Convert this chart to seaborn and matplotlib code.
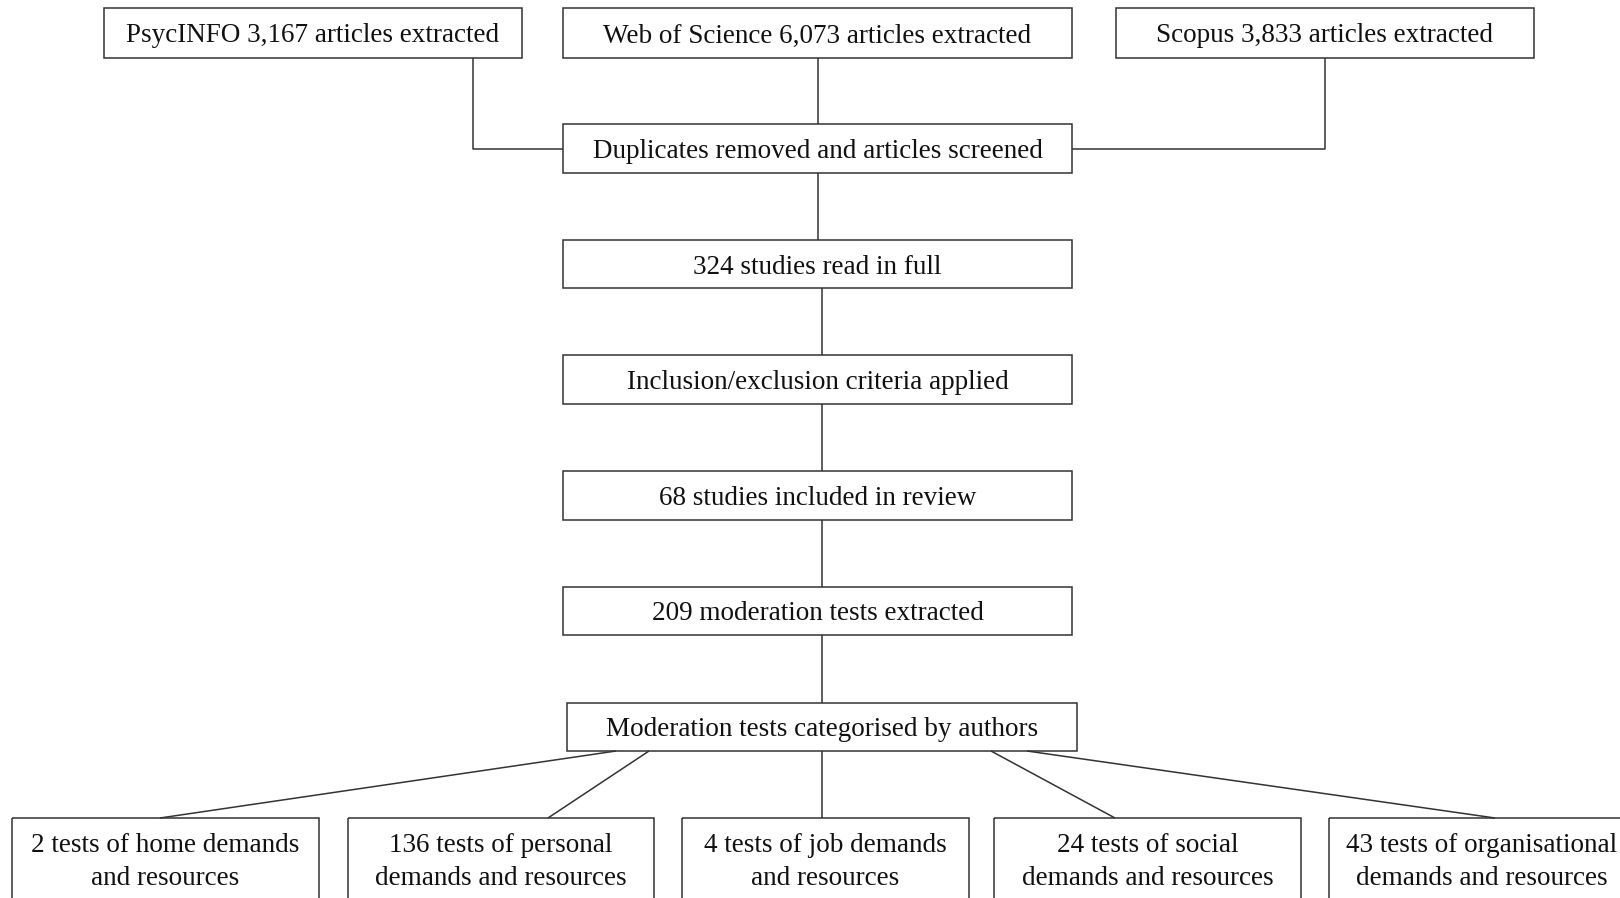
import matplotlib.pyplot as plt
from matplotlib.patches import Rectangle
import seaborn as sns

sns.set_style('white')
plt.rcParams['font.family'] = ['Liberation Serif', 'DejaVu Serif']

# record counts at each stage
databases = ['PsycINFO', 'Web of Science', 'Scopus']
db_counts = [3167, 6073, 3833]
full_read = 324
included = 68
mod_tests = 209
categories = ['home', 'personal', 'job', 'social', 'organisational']
cat_counts = [2, 136, 4, 24, 43]

W, H = 1620, 898
fig = plt.figure(figsize=(W / 100, H / 100), dpi=100)
ax = fig.add_axes([0, 0, 1, 1])
ax.set_xlim(0, W)
ax.set_ylim(H, 0)
ax.axis('off')

EDGE = '#333333'
LW = 1.1
FS = 19.5


def box(x0, x1, y0, y1, label):
    ax.add_patch(Rectangle((x0, y0), x1 - x0, y1 - y0, fill=False,
                           edgecolor=EDGE, linewidth=LW, clip_on=True))
    ax.text((x0 + x1) / 2, (y0 + y1) / 2 + 3, label, ha='center', va='center',
            fontsize=FS, color='#111111')


def line(xs, ys):
    ax.plot(xs, ys, color=EDGE, linewidth=LW, solid_capstyle='butt')


# top row of databases
top_x = [(104, 522), (563, 1072), (1116, 1534)]
for (x0, x1), name, n in zip(top_x, databases, db_counts):
    box(x0, x1, 8, 58, f'{name} {n:,} articles extracted')

# central column
mid = [
    ((563, 1072), (124, 173), 'Duplicates removed and articles screened'),
    ((563, 1072), (240, 288), f'{full_read} studies read in full'),
    ((563, 1072), (355, 404), 'Inclusion/exclusion criteria applied'),
    ((563, 1072), (471, 520), f'{included} studies included in review'),
    ((563, 1072), (587, 635), f'{mod_tests} moderation tests extracted'),
    ((567, 1077), (703, 751), 'Moderation tests categorised by authors'),
]
for (x0, x1), (y0, y1), label in mid:
    box(x0, x1, y0, y1, label)

# connectors from databases
line([473, 473, 563], [58, 149, 149])
line([818, 818], [58, 124])
line([1325, 1325, 1072], [58, 149, 149])

# central connectors
line([818, 818], [173, 240])
for (y0, y1) in [(288, 355), (404, 471), (520, 587), (635, 703)]:
    line([822, 822], [y0, y1])

# bottom category boxes (run off the page)
bot_x = [(12, 319), (348, 654), (682, 969), (994, 1301), (1329, 1635)]
for (x0, x1), cat, n in zip(bot_x, categories, cat_counts):
    if cat in ('home', 'job'):
        label = f'{n} tests of {cat} demands\nand resources'
    else:
        label = f'{n} tests of {cat}\ndemands and resources'
    ax.add_patch(Rectangle((x0, 818), x1 - x0, 140, fill=False,
                           edgecolor=EDGE, linewidth=LW))
    ax.text((x0 + x1) / 2, 862, label, ha='center', va='center',
            fontsize=FS, color='#111111', linespacing=1.4)

# fan-out connectors
fan = [((616, 751), (160, 818)), ((649, 751), (548, 818)), ((822, 751), (822, 818)),
       ((991, 751), (1115, 818)), ((1027, 751), (1495, 818))]
for (xa, ya), (xb, yb) in fan:
    line([xa, xb], [ya, yb])

fig.savefig('out.png', dpi=100, facecolor='white')
